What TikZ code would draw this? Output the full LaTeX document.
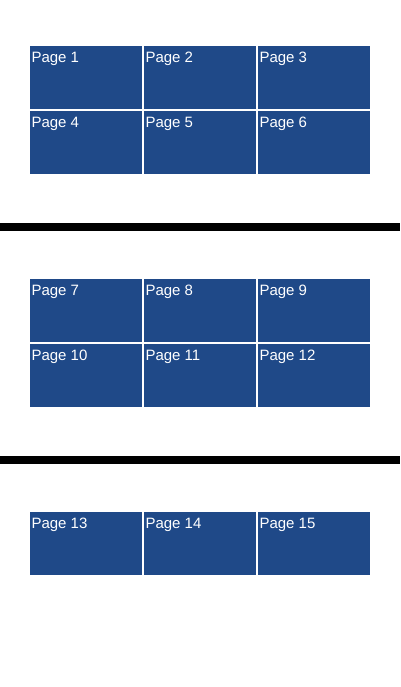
\documentclass[tikz,border=0pt]{standalone}
\usepackage{fontspec}
\setmainfont{Liberation Sans}
\definecolor{pageblue}{RGB}{31,73,136}
\tikzset{
    pagebox/.style={fill=pageblue, minimum width=112pt, minimum height=63pt, inner sep=0pt},
    pagetext/.style={anchor=base west, text=white, font=\fontsize{15}{17}\selectfont, inner sep=0pt, xshift=1.5pt, yshift=-17pt},
}
\begin{document}
\begin{tikzpicture}[x=1pt, y=-1pt]
    \useasboundingbox (0,0) rectangle (400,687);
    % first sheet
    \node[pagebox] (p1) at (86,77.5) {};
    \node[pagebox] (p2) at (200,77.5) {};
    \node[pagebox] (p3) at (314,77.5) {};
    \node[pagebox] (p4) at (86,142.5) {};
    \node[pagebox] (p5) at (200,142.5) {};
    \node[pagebox] (p6) at (314,142.5) {};
    % second sheet
    \node[pagebox] (p7) at (86,310.5) {};
    \node[pagebox] (p8) at (200,310.5) {};
    \node[pagebox] (p9) at (314,310.5) {};
    \node[pagebox] (p10) at (86,375.5) {};
    \node[pagebox] (p11) at (200,375.5) {};
    \node[pagebox] (p12) at (314,375.5) {};
    % third sheet
    \node[pagebox] (p13) at (86,543.5) {};
    \node[pagebox] (p14) at (200,543.5) {};
    \node[pagebox] (p15) at (314,543.5) {};
    \foreach \n in {1,...,15}
        \node[pagetext] (t\n) at (p\n.north west) {Page \n};
    % sheet breaks
    \fill[black] (0,223) rectangle (400,231);
    \fill[black] (0,456) rectangle (400,464);
\end{tikzpicture}
\end{document}
